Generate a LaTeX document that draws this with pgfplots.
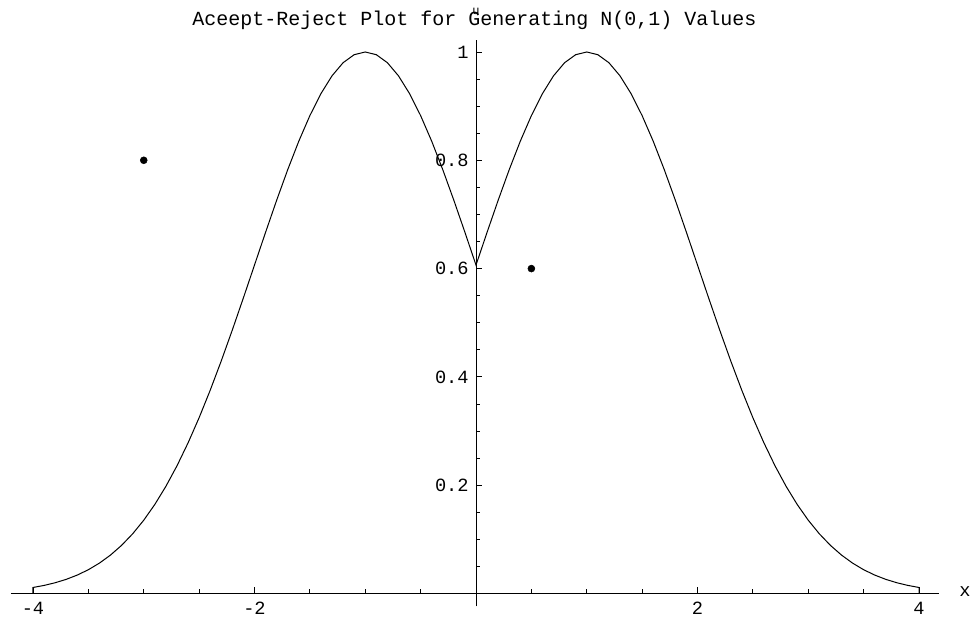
\documentclass[border=0pt]{standalone}
\usepackage{fontspec}
\setmainfont{Liberation Mono}
\setmonofont{Liberation Mono}
\usepackage{pgfplots}
\pgfplotsset{compat=1.18}
\begin{document}
\begin{tikzpicture}
\useasboundingbox (-357pt,-19.875pt) rectangle (372.75pt,445.125pt);
\begin{axis}[
  anchor=origin, at={(0pt,0pt)},
  x=83.0625pt, y=406.125pt,
  xmin=-4.2, xmax=4.18, ymin=-0.024, ymax=1.022,
  axis lines=middle,
  axis line style={line width=0.6pt, -},
  clip=false,
  xtick={-4,-2,2,4},
  minor xtick={-3.5,-3,-2.5,-1.5,-1,-0.5,0.5,1,1.5,2.5,3,3.5},
  ytick={0.2,0.4,0.6,0.8,1},
  yticklabels={0.2,0.4,0.6,0.8,1},
  minor ytick={0.05,0.1,0.15,0.25,0.3,0.35,0.45,0.5,0.55,0.65,0.7,0.75,0.85,0.9,0.95},
  tick align=inside,
  major tick length=4.5pt, minor tick length=3pt,
  tick style={line width=0.6pt, black},
  /pgf/number format/assume math mode=true,
  ticklabel style={font=\fontsize{14}{16}\selectfont},
  xticklabel style={yshift=-3pt},
  yticklabel style={xshift=-2pt},
]
\addplot[black, line width=0.75pt] coordinates {
(-4,0) (-4,0.01111) (-3.9,0.01492) (-3.8,0.01984) (-3.7,0.02612) (-3.6,0.03405) (-3.5,0.04394)
(-3.4,0.05613) (-3.3,0.07100) (-3.2,0.08892) (-3.1,0.11025) (-3.0,0.13534)
(-2.9,0.16447) (-2.8,0.19790) (-2.7,0.23575) (-2.6,0.27804) (-2.5,0.32465)
(-2.4,0.37531) (-2.3,0.42956) (-2.2,0.48675) (-2.1,0.54607) (-2.0,0.60653)
(-1.9,0.66698) (-1.8,0.72615) (-1.7,0.78270) (-1.6,0.83527) (-1.5,0.88250)
(-1.4,0.92312) (-1.3,0.95600) (-1.2,0.98020) (-1.1,0.99501) (-1.0,1.0)
(-0.9,0.99501) (-0.8,0.98020) (-0.7,0.95600) (-0.6,0.92312) (-0.5,0.88250)
(-0.4,0.83527) (-0.3,0.78270) (-0.2,0.72615) (-0.1,0.66698) (0,0.60653)
(0.1,0.66698) (0.2,0.72615) (0.3,0.78270) (0.4,0.83527) (0.5,0.88250)
(0.6,0.92312) (0.7,0.95600) (0.8,0.98020) (0.9,0.99501) (1.0,1.0)
(1.1,0.99501) (1.2,0.98020) (1.3,0.95600) (1.4,0.92312) (1.5,0.88250)
(1.6,0.83527) (1.7,0.78270) (1.8,0.72615) (1.9,0.66698) (2.0,0.60653)
(2.1,0.54607) (2.2,0.48675) (2.3,0.42956) (2.4,0.37531) (2.5,0.32465)
(2.6,0.27804) (2.7,0.23575) (2.8,0.19790) (2.9,0.16447) (3.0,0.13534)
(3.1,0.11025) (3.2,0.08892) (3.3,0.07100) (3.4,0.05613) (3.5,0.04394)
(3.6,0.03405) (3.7,0.02612) (3.8,0.01984) (3.9,0.01492) (4,0.01111) (4,0)
};
\addplot[only marks, mark=*, mark size=2.6pt, black] coordinates {(-3,0.8) (0.5,0.6)};
\node[font=\fontsize{15}{17}\selectfont, anchor=center] at (axis cs:-0.015,1.059) {Aceept-Reject Plot for Generating N(0,1) Values};
\node[font=\fontsize{9}{10}\selectfont, anchor=center] at (axis cs:0,1.075) {u};
\node[font=\fontsize{14}{16}\selectfont, anchor=center] at (axis cs:4.415,0.003) {x};
\end{axis}
\end{tikzpicture}
\end{document}
